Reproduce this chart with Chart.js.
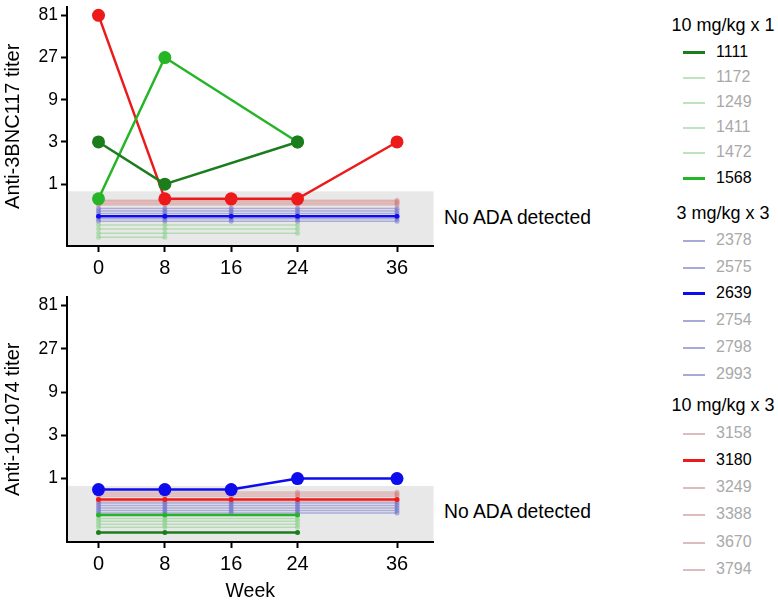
<!DOCTYPE html>
<html lang="en">
<head>
<meta charset="UTF-8">
<title>Anti-drug antibody titers</title>
<style>
  body {
    margin: 0;
    width: 778px;
    height: 601px;
    overflow: hidden;
    background: #fff;
    font-family: "Liberation Sans", Arial, sans-serif;
    color: #000;
  }
  canvas { position: absolute; left: 0; }
  #topChart { top: 0; }
  #bottomChart { top: 290px; }
  .note {
    position: absolute;
    left: 444px;
    font-size: 19.3px;
    line-height: 22px;
    white-space: nowrap;
  }
  .hdr {
    position: absolute;
    left: 653px;
    width: 140px;
    font-size: 18px;
    line-height: 22px;
    text-align: center;
    white-space: nowrap;
  }
  .item {
    position: absolute;
    left: 683px;
    height: 20px;
    font-size: 16px;
    line-height: 20px;
    white-space: nowrap;
  }
  .item .sw {
    position: absolute;
    left: 0;
    width: 22px;
  }
  .item .txt {
    position: absolute;
    left: 33px;
    top: 0;
  }
</style>
</head>
<body>
<canvas id="topChart" width="440" height="290"></canvas>
<canvas id="bottomChart" width="440" height="314"></canvas>
<div id="legend"></div>

<script src="https://cdn.jsdelivr.net/npm/chart.js"></script>
<script>
// --- data ---
const weeks = [0, 8, 16, 24, 36];
const yTicks = [1, 3, 9, 27, 81];
const detectionLimit = 0.83;
const groups = ['10 mg/kg x 1', '3 mg/kg x 3', '10 mg/kg x 3'];
const participants = ['1111', '1172', '1249', '1411', '1472', '1568',
                      '2378', '2575', '2639', '2754', '2798', '2993',
                      '3158', '3180', '3249', '3388', '3670', '3794'];
const participantGroup = [0, 0, 0, 0, 0, 0, 1, 1, 1, 1, 1, 1, 2, 2, 2, 2, 2, 2];
const highlighted = ['1111', '1568', '2639', '3180'];

// titers per participant at weeks 0, 8, 16, 24, 36 (null = not sampled)
const titer3BNC117 = [
    [3, 1, null, 3, null],
    [0.345, 0.345, null, 0.345, null],
    [0.311, 0.311, null, 0.311, null],
    [0.278, 0.278, null, 0.278, null],
    [0.251, 0.251, null, null, null],
    [0.683, 27, null, 3, null],
    [0.53, 0.53, 0.53, 0.53, 0.53],
    [0.498, 0.498, 0.498, 0.498, 0.498],
    [0.433, 0.433, 0.433, 0.433, 0.433],
    [0.467, 0.467, 0.467, 0.467, 0.467],
    [0.406, 0.406, 0.406, 0.406, 0.406],
    [0.381, 0.381, 0.381, 0.381, 0.381],
    [0.66, 0.66, 0.66, 0.66, 0.66],
    [81, 0.683, 0.683, 0.683, 3],
    [0.64, 0.64, 0.64, 0.64, 0.64],
    [0.62, 0.62, 0.62, 0.62, 0.62],
    [0.60, 0.60, 0.60, 0.60, 0.60],
    [0.58, 0.58, 0.58, 0.58, 0.58]
];
const titer101074 = [
    [0.254, 0.254, null, 0.254, null],
    [0.364, 0.364, null, 0.364, null],
    [0.338, 0.338, null, 0.338, null],
    [0.313, 0.313, null, 0.313, null],
    [0.29, 0.29, null, 0.29, null],
    [0.398, 0.398, null, 0.398, null],
    [0.539, 0.539, 0.539, 0.539, 0.539],
    [0.506, 0.506, 0.506, 0.506, 0.506],
    [0.757, 0.757, 0.757, 1, 1],
    [0.475, 0.475, 0.475, 0.475, 0.475],
    [0.446, 0.446, 0.446, 0.446, 0.446],
    [0.418, 0.418, 0.418, 0.418, 0.418],
    [0.711, 0.711, 0.711, 0.711, 0.711],
    [0.588, 0.588, 0.588, 0.588, 0.588],
    [0.685, 0.685, 0.685, 0.685, 0.685],
    [0.659, 0.659, 0.659, 0.659, 0.659],
    [0.635, 0.635, 0.635, 0.635, 0.635],
    [0.559, 0.559, 0.559, 0.559, 0.559]
];

// --- styles ---
const highlightColor = { '1111': '#1b7d1b', '1568': '#26b526', '2639': '#0c0cee', '3180': '#ec1a1a' };
const fadedColor = ['rgba(120, 205, 120, 0.45)', 'rgba(95, 95, 205, 0.45)', 'rgba(210, 125, 125, 0.4)'];
const legendFaded = ['#bfe2bf', '#a9a9d8', '#dcbcbe'];
const fontFamily = '"Liberation Sans", Arial, sans-serif';

function makeDatasets(rows) {
    return participants.map((id, i) => {
        const hi = highlighted.includes(id);
        const vals = rows[i];
        const detected = vals.some(v => v !== null && v >= detectionLimit);
        const color = hi ? highlightColor[id] : fadedColor[participantGroup[i]];
        return {
            label: id,
            data: weeks.map((w, k) => ({ x: w, y: vals[k] })).filter(p => p.y !== null),
            borderColor: color,
            backgroundColor: color,
            pointBackgroundColor: color,
            borderWidth: hi ? 2.5 : 1.5,
            pointRadius: hi && detected ? 6.5 : 2.5,
            pointBorderWidth: 0,
            tension: 0,
            order: hi ? 0 : 1
        };
    });
}

// grey "no ADA detected" band below the detection limit
const bandPlugin = {
    id: 'band',
    beforeDraw(chart) {
        const { ctx, chartArea, scales } = chart;
        const yTop = scales.y.getPixelForValue(detectionLimit);
        ctx.save();
        ctx.fillStyle = '#e8e8e8';
        ctx.fillRect(chartArea.left, yTop, chartArea.right - chartArea.left, chartArea.bottom - yTop);
        ctx.restore();
    }
};

function makeConfig(rows, yTitle, xTitle, xHeight, padTop) {
    const axisGrid = { display: true, drawOnChartArea: false, drawTicks: true, tickLength: 6, tickWidth: 2, tickColor: '#000' };
    const axisBorder = { display: true, color: '#000', width: 2 };
    return {
        type: 'line',
        data: { datasets: makeDatasets(rows) },
        plugins: [bandPlugin],
        options: {
            responsive: false,
            animation: false,
            events: [],
            devicePixelRatio: 1,
            layout: { padding: { top: padTop, right: 3, left: 0, bottom: 0 } },
            plugins: { legend: { display: false }, tooltip: { enabled: false } },
            scales: {
                x: {
                    type: 'linear',
                    min: -3.8,
                    max: 40.4,
                    afterBuildTicks: s => { s.ticks = weeks.map(v => ({ value: v })); },
                    afterFit: s => { s.height = xHeight; s.paddingLeft = 0; s.paddingRight = 0; },
                    ticks: { font: { family: fontFamily, size: 20 }, color: '#000', padding: 4, maxRotation: 0, autoSkip: false },
                    grid: axisGrid,
                    border: axisBorder,
                    title: {
                        display: !!xTitle,
                        text: xTitle,
                        color: '#000',
                        font: { family: fontFamily, size: 19.5 },
                        padding: { top: 0, bottom: 1 }
                    }
                },
                y: {
                    type: 'logarithmic',
                    min: 0.2,
                    max: 102,
                    afterBuildTicks: s => { s.ticks = yTicks.map(v => ({ value: v })); },
                    afterFit: s => { s.width = 67; s.paddingTop = 0; s.paddingBottom = 0; },
                    ticks: { font: { family: fontFamily, size: 17.5 }, color: '#000', padding: 3, callback: v => String(v) },
                    grid: axisGrid,
                    border: axisBorder,
                    title: {
                        display: true,
                        text: yTitle,
                        color: '#000',
                        font: { family: fontFamily, size: 20 },
                        padding: { top: 1, bottom: 0 }
                    }
                }
            }
        }
    };
}

new Chart(document.getElementById('topChart'), makeConfig(titer3BNC117, 'Anti-3BNC117 titer', '', 44, 2));
new Chart(document.getElementById('bottomChart'), makeConfig(titer101074, 'Anti-10-1074 titer', 'Week', 62, 5));

// --- text labels and legend ---
const legend = document.getElementById('legend');
[218, 512].forEach(y => {
    const d = document.createElement('div');
    d.className = 'note';
    d.style.top = (y - 11) + 'px';
    d.textContent = 'No ADA detected';
    legend.appendChild(d);
});

const headerY = [25, 213, 405];
const firstItemY = [51.5, 240, 432.5];
const rowStep = [25.2, 26.7, 27.3];
groups.forEach((g, gi) => {
    const h = document.createElement('div');
    h.className = 'hdr';
    h.style.top = (headerY[gi] - 11) + 'px';
    h.textContent = g;
    legend.appendChild(h);
    participants.filter((id, i) => participantGroup[i] === gi).forEach((id, k) => {
        const hi = highlighted.includes(id);
        const item = document.createElement('div');
        item.className = 'item';
        item.style.top = Math.round(firstItemY[gi] + k * rowStep[gi] - 10) + 'px';
        const sw = document.createElement('div');
        sw.className = 'sw';
        const thick = hi ? 3 : 2;
        sw.style.height = thick + 'px';
        sw.style.top = (hi ? 9 : 10) + 'px';
        sw.style.background = hi ? highlightColor[id] : legendFaded[gi];
        const txt = document.createElement('div');
        txt.className = 'txt';
        txt.style.color = hi ? '#000' : '#a9a9a9';
        txt.textContent = id;
        item.appendChild(sw);
        item.appendChild(txt);
        legend.appendChild(item);
    });
});
</script>
</body>
</html>
